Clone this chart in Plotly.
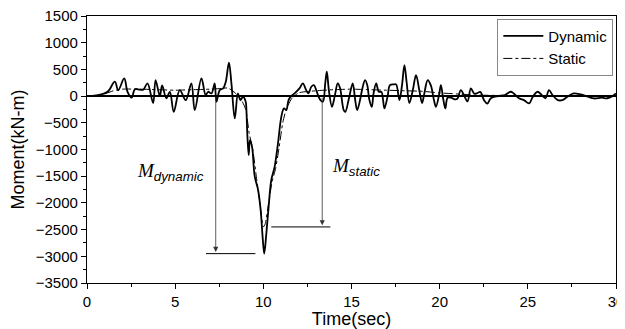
import plotly.graph_objects as go

# ---- data ----
t_dyn = [0, 0.3, 0.6, 0.9, 1.2, 1.58, 1.77, 2.11, 2.3, 2.53, 2.72, 3.0, 3.19, 3.43, 3.75, 3.89,
         4.13, 4.26, 4.5, 4.7, 4.92, 5.26, 5.6, 5.92, 6.11, 6.49, 6.73, 6.87, 7.06, 7.24, 7.34,
         7.53, 7.72, 7.87, 8.05, 8.19, 8.38, 8.56, 8.7, 8.85, 9.0, 9.04, 9.09, 9.17, 9.24, 9.36,
         9.51, 9.7, 9.85, 9.96, 10.05, 10.17, 10.3, 10.45, 10.64, 10.83, 11.02, 11.17, 11.3,
         11.43, 11.58, 11.77, 12.05, 12.24, 12.43, 12.56, 12.72, 12.87, 13.0, 13.1, 13.24, 13.38,
         13.51, 13.6, 13.72, 13.89, 14.05, 14.22, 14.35, 14.56, 14.65, 14.85, 15.07, 15.2, 15.32,
         15.5, 15.6, 15.77, 15.9, 16.0, 16.15, 16.25, 16.4, 16.55, 16.7, 16.78, 16.87, 17.05,
         17.18, 17.4, 17.53, 17.72, 17.87, 18.0, 18.13, 18.28, 18.47, 18.66, 18.85, 19.0, 19.13,
         19.32, 19.5, 19.68, 19.79, 19.98, 20.07, 20.2, 20.32, 20.45, 20.65, 20.85, 21.0, 21.2,
         21.4, 21.58, 21.77, 21.95, 22.1, 22.3, 22.52, 22.7, 22.9, 23.3, 23.7, 24.03, 24.2, 24.5,
         24.8, 25.07, 25.3, 25.54, 25.7, 26.0, 26.2, 26.4, 26.7, 26.96, 27.3, 27.6, 28.0, 28.4,
         28.75, 29.2, 29.5, 29.8, 30.0]
m_dyn = [0, 5, 20, 40, 90, 270, 110, 330, 80, -30, 130, 120, 120, 240, -130, 300,
         0, 200, -40, 80, -294, 112, -75, 238, -262, 331, 19, 81, 50, 238, -106,
         112, 144, 269, 625, 238, -419, 50, -75, -12, -106, -262, -700, -1106, -825, -950,
         -1500, -1750, -2140, -2640, -2950, -2575, -2075, -1575, -1325, -888, -388, -231, -262,
         -75, 0, 50, 144, 238, 112, 50, 175, 206, 112, 19, -75, -106,
         238, 456, 100, -200, 0, 238, 150, -262, -294, -50, 238, -50, -262,
         -50, 120, 300, 200, -50, -200, 50, 238, 80, 80, -50, -231, 0,
         206, 219, 219, -75, 219, 581, 250, -130, 100, 394, 100, -130, 50,
         300, 200, -80, -200, 50, 206, -50, -231, -30, -30, -60, -50, 112,
         0, -100, 144, 50, 50, 80, -80, -140, -40, 0, 20, 81, 50, -40,
         -80, -137, 0, 81, 50, -40, 112, 20, -75, -75, 0, 50, 30, -10,
         -44, -30, -40, 0, 50]

t_sta = [0, 0.5, 1.0, 1.5, 2.0, 3.0, 4.0, 5.0, 6.0, 7.0, 7.5, 8.0, 8.4, 8.8, 9.0, 9.2, 9.4,
         9.6, 9.8, 10.0, 10.1, 10.3, 10.5, 10.7, 10.9, 11.1, 11.3, 11.6, 12.0, 13.0, 14.0, 15.0,
         16.0, 17.0, 18.0, 19.0, 20.0, 21.0, 22.0, 24.0, 26.0, 28.0, 30.0]
m_sta = [0, 5, 40, 100, 130, 130, 120, 110, 120, 130, 140, 150, 60, -100, -250, -700, -1000,
         -1500, -2000, -2450, -2400, -2000, -1600, -1350, -950, -500, -250, -50, 60, 100, 120, 130,
         120, 110, 100, 90, 60, 40, 20, 10, 5, 0, 0]

x_ticks = [0, 5, 10, 15, 20, 25, 30]
y_ticks = [1500, 1000, 500, 0, -500, -1000, -1500, -2000, -2500, -3000, -3500]

# annotation anchors
t_arrow_dyn = 7.3
t_arrow_sta = 13.34
dyn_bar = [6.75, 9.55]
sta_bar = [10.45, 13.8]

dyn_min = min(m_dyn)
sta_min = min(m_sta)

FONT = "Liberation Sans, Arial, sans-serif"

fig = go.Figure()
fig.add_trace(go.Scatter(x=t_dyn, y=m_dyn, mode="lines", name="Dynamic",
                         line=dict(color="black", width=1.8, shape="spline", smoothing=1.0)))
fig.add_trace(go.Scatter(x=t_sta, y=m_sta, mode="lines", name="Static",
                         line=dict(color="black", width=1, dash="dashdot", shape="spline", smoothing=0.6)))

# horizontal bars
fig.add_shape(type="line", xref="x", yref="y", x0=dyn_bar[0], x1=dyn_bar[1],
              y0=dyn_min, y1=dyn_min, line=dict(color="black", width=1))
fig.add_shape(type="line", xref="x", yref="y", x0=sta_bar[0], x1=sta_bar[1],
              y0=sta_min, y1=sta_min, line=dict(color="black", width=1))

# arrows
for tx, tip in [(t_arrow_dyn, dyn_min + 30), (t_arrow_sta, sta_min + 30)]:
    fig.add_annotation(x=tx, y=tip, ax=tx, ay=0, xref="x", yref="y", axref="x", ayref="y",
                       text="", showarrow=True, arrowhead=2, arrowsize=1.3,
                       arrowwidth=0.8, arrowcolor="#333")

m_style = "font-family:'Liberation Serif', 'Times New Roman', serif;font-style:italic;font-size:19px"
fig.add_annotation(x=4.75, y=-1420, xref="x", yref="y", showarrow=False,
                   text=f"<span style=\"{m_style}\">M</span><sub><i>dynamic</i></sub>",
                   font=dict(family=FONT, size=19, color="black"))
fig.add_annotation(x=15.25, y=-1320, xref="x", yref="y", showarrow=False,
                   text=f"<span style=\"{m_style}\">M</span><sub><i>static</i></sub>",
                   font=dict(family=FONT, size=19, color="black"))

axis_common = dict(showline=True, linecolor="black", linewidth=1.2, mirror=True,
                   ticks="outside", ticklen=5, tickwidth=1, tickcolor="black",
                   showgrid=False, automargin=False, ticklabeloverflow="allow",
                   tickfont=dict(family=FONT, size=15, color="black"))

fig.update_xaxes(range=[0, 30], tickvals=x_ticks, zeroline=False,
                 title=dict(text="Time(sec)", font=dict(family=FONT, size=18, color="black")),
                 minor=dict(dtick=2.5, ticks="outside", ticklen=3, tickcolor="black"),
                 **axis_common)
fig.update_yaxes(range=[-3500, 1500], tickvals=y_ticks, zeroline=True, zerolinecolor="black",
                 zerolinewidth=1.5,
                 title=dict(text="Moment(kN-m)", font=dict(family=FONT, size=18, color="black")),
                 minor=dict(dtick=250, ticks="outside", ticklen=3, tickcolor="black"),
                 **axis_common)

# page body adds an 8px offset, so the figure is sized to fit the window
fig.update_layout(
    width=617, height=321,
    margin=dict(l=79, r=9, t=8, b=46),
    plot_bgcolor="white", paper_bgcolor="white",
    legend=dict(x=0.995, y=0.99, xanchor="right", yanchor="top",
                bordercolor="#888", borderwidth=1, bgcolor="white",
                font=dict(family=FONT, size=15, color="black"),
                tracegroupgap=0, itemwidth=40),
    showlegend=True,
)

fig.write_html("out.html")
